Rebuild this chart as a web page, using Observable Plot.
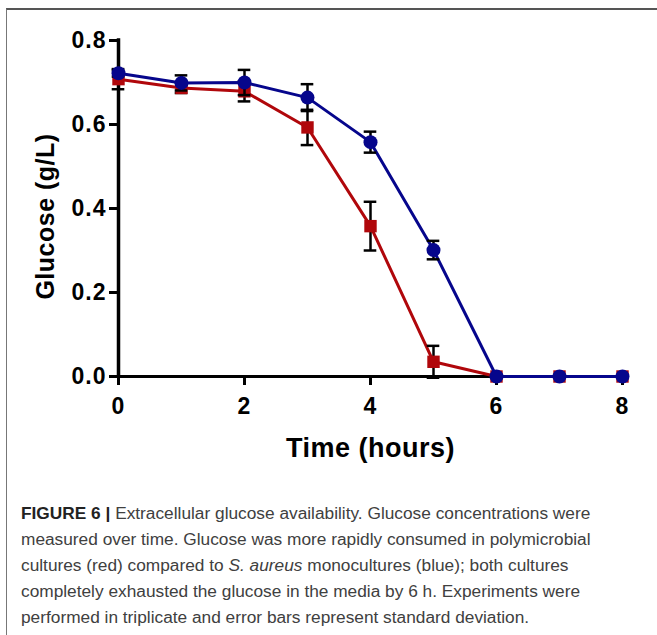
<!DOCTYPE html>
<html>
<head>
<meta charset="utf-8">
<script src="https://cdn.jsdelivr.net/npm/d3@7"></script>
<script src="https://cdn.jsdelivr.net/npm/@observablehq/plot@0.6"></script>
<style>
  html, body { margin: 0; padding: 0; background: #fff; }
  #fig { position: relative; width: 657px; height: 635px; overflow: hidden; background: #fff; }
  #frame { position: absolute; left: 6px; top: 8px; width: 720px; height: 720px;
           border-top: 2px solid #555; border-left: 1.5px solid #777; }
  #chart { position: absolute; left: 0; top: 0; }
  #caption { position: absolute; left: 21px; top: 500px; width: 640px;
             font-family: "Liberation Sans", Arial, sans-serif; font-size: 17.3px;
             line-height: 26px; color: #404040; white-space: nowrap; letter-spacing: 0px; }
  #caption b { color: #222; }
</style>
</head>
<body>
<div id="fig">
  <div id="frame"></div>
  <div id="chart"></div>
  <div id="caption">
    <b>FIGURE 6 |</b> Extracellular glucose availability. Glucose concentrations were<br>
    measured over time. Glucose was more rapidly consumed in polymicrobial<br>
    cultures (red) compared to <i>S. aureus</i> monocultures (blue); both cultures<br>
    completely exhausted the glucose in the media by 6 h. Experiments were<br>
    performed in triplicate and error bars represent standard deviation.
  </div>
</div>
<script>
// ---- data ----
const hours = [0, 1, 2, 3, 4, 5, 6, 7, 8];
// polymicrobial cultures (red squares)
const polyMean = [0.708, 0.687, 0.679, 0.593, 0.358, 0.035, 0, 0, 0];
const polySD   = [0.024, 0.012, 0.024, 0.042, 0.058, 0.038, 0, 0, 0];
// S. aureus monocultures (blue circles)
const monoMean = [0.722, 0.699, 0.700, 0.664, 0.558, 0.301, 0, 0, 0];
const monoSD   = [0.008, 0.018, 0.030, 0.032, 0.025, 0.022, 0, 0, 0];
const yTicks = [0, 0.2, 0.4, 0.6, 0.8];
const xTicks = [0, 2, 4, 6, 8];
const xLabel = "Time (hours)";
const yLabel = "Glucose (g/L)";

const red = "#b0070b";
const blue = "#06068c";

const poly = hours.map((h, i) => ({h, mean: polyMean[i], sd: polySD[i]}));
const mono = hours.map((h, i) => ({h, mean: monoMean[i], sd: monoSD[i]}));
const capW = 0.1;

function errorMarks(data) {
  const d = data.filter(e => e.sd > 0);
  return [
    Plot.ruleX(d, {x: "h", y1: e => e.mean - e.sd, y2: e => e.mean + e.sd, stroke: "#000", strokeWidth: 2.5}),
    Plot.ruleY(d, {y: e => e.mean + e.sd, x1: e => e.h - capW, x2: e => e.h + capW, stroke: "#000", strokeWidth: 2.5}),
    Plot.ruleY(d, {y: e => e.mean - e.sd, x1: e => e.h - capW, x2: e => e.h + capW, stroke: "#000", strokeWidth: 2.5})
  ];
}

const fontFam = "'Liberation Sans', Arial, sans-serif";
const yMin = yTicks[0], yMax = yTicks[yTicks.length - 1];
const xMin = xTicks[0], xMax = xTicks[xTicks.length - 1];

const chart = Plot.plot({
  width: 657,
  height: 470,
  marginLeft: 118,
  marginRight: 35,
  marginTop: 40,
  marginBottom: 94,
  style: {fontFamily: fontFam, background: "transparent", color: "#000"},
  x: {domain: [xMin, xMax]},
  y: {domain: [yMin, yMax]},
  marks: [
    Plot.axisX({ticks: xTicks, tickSize: 9, tickPadding: 12, strokeWidth: 3, fontSize: 23, fontWeight: "bold", label: null, tickFormat: d => String(d)}),
    Plot.axisY({ticks: yTicks, tickSize: 9, tickPadding: 3, strokeWidth: 3, fontSize: 23, fontWeight: "bold", label: null, tickFormat: d => d.toFixed(1)}),
    Plot.ruleX([xMin], {x: d => d, y1: yMin, y2: yMax, strokeWidth: 3.5, stroke: "#000", strokeLinecap: "square"}),
    Plot.ruleY([yMin], {y: d => d, x1: xMin, x2: xMax, strokeWidth: 3, stroke: "#000"}),
    Plot.text([xLabel], {frameAnchor: "bottom", dy: 80, fontSize: 27, fontWeight: "bold", text: d => d, fill: "#000", textAnchor: "middle"}),
    Plot.text([yLabel], {frameAnchor: "left", dx: -73, dy: 8, rotate: -90, fontSize: 25, fontWeight: "bold", text: d => d, fill: "#000", textAnchor: "middle"}),
    Plot.line(poly, {x: "h", y: "mean", stroke: red, strokeWidth: 3}),
    ...errorMarks(poly),
    Plot.dot(poly, {x: "h", y: "mean", symbol: "square", r: 7, fill: red}),
    Plot.line(mono, {x: "h", y: "mean", stroke: blue, strokeWidth: 3}),
    ...errorMarks(mono),
    Plot.dot(mono, {x: "h", y: "mean", symbol: "circle", r: 7, fill: blue})
  ]
});
const svg = d3.select(chart);
svg.selectAll("g[aria-label='x-axis tick label'] text, g[aria-label='y-axis tick label'] text").style("letter-spacing", "1px");
svg.selectAll("g[aria-label='text'] text").style("letter-spacing", "0.5px");
document.getElementById("chart").appendChild(chart);
</script>
</body>
</html>
